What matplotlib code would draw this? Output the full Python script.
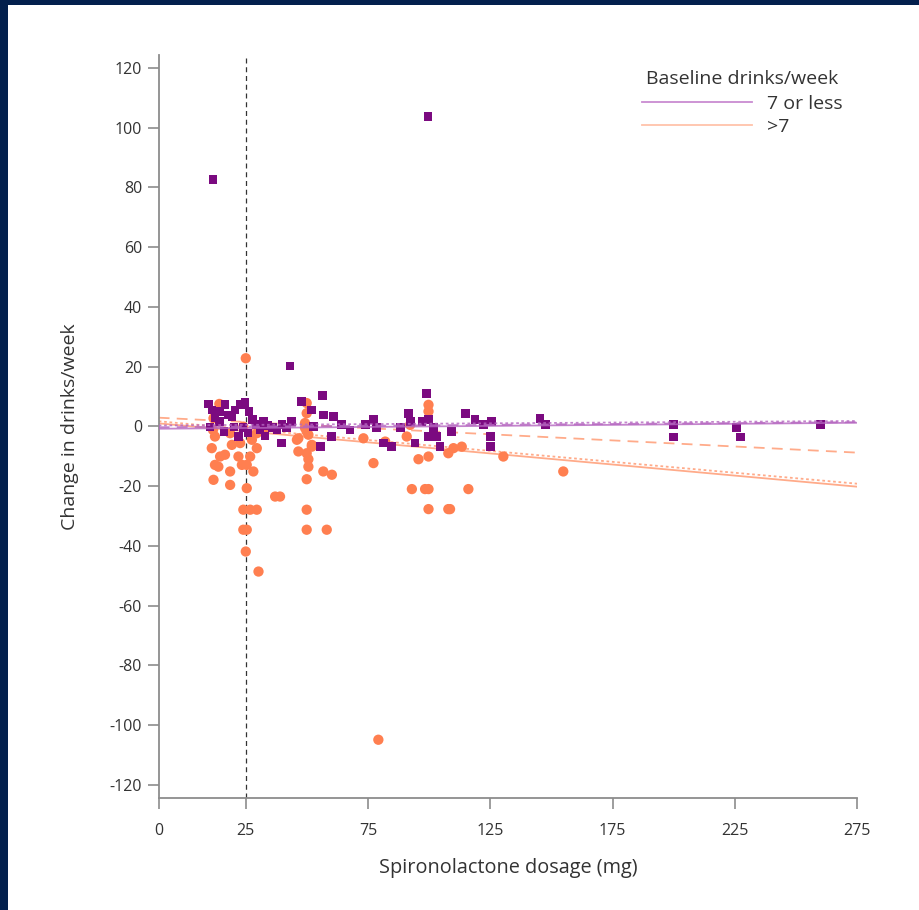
import matplotlib
matplotlib.use("Agg")
import matplotlib.pyplot as plt
from matplotlib.lines import Line2D
from matplotlib.patches import Rectangle

plt.rcParams['font.family'] = ['Open Sans', 'DejaVu Sans']

# ---------------- data ----------------
# Baseline 7 or less drinks/week (purple squares)
low_dose = [11.6, 99.5, 43.1, 56.5, 47.9, 52.0, 56.7, 60.8, 39.7, 43.8, 52.6, 55.4, 60.2,
            64.2, 67.6, 73.8, 77.2, 78.6, 81.3, 84.7, 88.1, 91.5, 92.2, 94.2, 97.0, 99.0,
            99.7, 101.7, 99.7, 103.1, 104.4, 109.2, 114.7, 118.7, 122.1, 125.6, 124.9,
            124.9, 145.3, 147.6, 199.8, 199.8, 225.7, 227.1, 259.8,
            9.6, 11.2, 12.4, 10.4, 14.1, 16.1, 17.8, 19.4, 20.6, 22.7, 24.7, 26.3, 27.6,
            20.2, 21.9, 29.2, 30.8, 32.1, 34.1, 35.8, 37.8, 39.8, 41.5, 32.9, 25.9, 23.9,
            14.5, 16.5]
low_change = [82.5, 103.6, 20.2, 10.3, 8.3, 5.5, 3.8, 3.3, -5.6, 1.6, -0.1, -6.8, -3.4,
              0.5, -1.2, 0.5, 2.2, -0.5, -5.6, -6.8, -0.5, 4.4, 1.6, -5.6, 1.6, 11.1,
              2.2, -0.5, -3.4, -3.4, -6.8, -1.7, 4.4, 2.2, 0.5, 1.6, -3.4,
              -6.8, 2.5, 0.5, 0.5, -3.6, -0.4, -3.6, 0.5,
              7.5, 5.5, 2.8, -0.2, 1.5, -1.8, 3.8, 3.2, 5.5, 7.2, 7.9, 4.9, 2.2,
              -0.2, -3.5, 0.5, -1.2, 1.5, 0.2, -0.5, -1.2, 0.5, -0.5, -3.2, -2.2, -0.5,
              4.9, 7.2]

# Baseline more than 7 drinks/week (orange circles)
high_dose = [25.0, 14.2, 11.8, 11.6, 12.4, 11.1, 14.5, 12.4, 13.8, 11.8, 18.6, 18.6,
             16.5, 19.3, 18.6, 24.0, 22.7, 22.0, 23.4, 25.4, 28.1, 26.8, 29.5, 27.5,
             29.5, 32.2, 25.4, 37.0, 24.0, 26.8, 29.5, 24.0, 25.4, 25.0, 30.2,
             49.9, 49.9, 49.2, 49.9, 45.9, 46.5, 49.9, 52.0, 50.6, 49.9, 56.7, 60.2,
             49.9, 49.9, 58.1, 50.6, 49.2, 52.0, 46.5, 50.6,
             73.1, 77.2, 82.0, 90.8, 92.2, 99.7, 99.7, 95.6, 99.7, 92.9, 98.3, 99.7,
             116.0, 99.7, 107.8, 108.5, 107.8, 109.9, 113.3, 130.3, 154.8, 39.0, 79.2]
high_change = [22.8, 7.5, 2.7, -1.2, -3.4, -7.3, -10.1, -12.9, -13.5, -17.9, -19.6, -15.1,
               -9.5, -6.2, -2.3, -0.1, -5.6, -10.1, -12.9, -12.9, -15.1, -10.1, -7.3, -4.5,
               -2.3, -1.7, -20.7, -23.5, -27.9, -27.9, -27.9, -34.6, -34.6, -41.9, -48.6,
               7.8, 4.4, 1.1, -1.7, -4.5, -8.4, -9.0, -6.2, -13.5, -17.7, -15.1, -16.2,
               -27.9, -34.6, -34.6, -2.8, -0.5, -6.8, -4.0, -11.0,
               -4.0, -12.3, -5.1, -3.4, 0.5, 7.2, 5.0, -11.0, -10.1, -21.0, -21.0, -21.0,
               -21.0, -27.7, -27.7, -27.7, -9.0, -7.3, -6.8, -10.1, -15.1, -23.5, -104.9]

# fitted lines (values at the two axis ends)
fit_x = [-10.6, 275]
low_fit_solid = [-0.8, 1.2]
low_fit_dashed = [-0.3, 1.4]
low_fit_dotted = [0.3, 1.8]
high_fit_solid = [1.0, -20.2]
high_fit_dashed = [2.9, -8.8]
high_fit_dotted = [1.7, -19.2]

x_tick_pos = [-10.6, 25, 75, 125, 175, 225, 275]
x_tick_labels = ["0", "25", "75", "125", "175", "225", "275"]
y_ticks = [120, 100, 80, 60, 40, 20, 0, -20, -40, -60, -80, -100, -120]

legend_title = "Baseline drinks/week"
group_labels = ["7 or less", ">7"]

# ---------------- figure ----------------
W, H = 919, 910
fig = plt.figure(figsize=(W / 100, H / 100), dpi=100)
fig.patch.set_facecolor('white')
navy = '#03204d'
fig.patches.append(Rectangle((0, 0), 8 / W, 1, transform=fig.transFigure,
                             facecolor=navy, edgecolor='none', zorder=-10))
fig.patches.append(Rectangle((0, 1 - 5 / H), 1, 5 / H, transform=fig.transFigure,
                             facecolor=navy, edgecolor='none', zorder=-10))

ax = fig.add_axes([158.7 / W, 112.3 / H, (857.3 - 158.7) / W, (797.7 - 55) / H])
ax.set_facecolor('none')

purple = '#7b0a80'
orange = '#ff7f50'
purple_line = '#b566c0'
orange_line = '#ffab8a'

ax.axvline(25, color='#333333', lw=0.9, ls=(0, (4, 3)), zorder=1)

ax.plot(fit_x, high_fit_solid, color=orange_line, lw=1.3, zorder=2)
ax.plot(fit_x, high_fit_dashed, color=orange_line, lw=1.3, ls=(0, (6, 4)), zorder=2)
ax.plot(fit_x, high_fit_dotted, color=orange_line, lw=1.3, ls=(0, (1.5, 1.5)), zorder=2)

ax.scatter(high_dose, high_change, s=55, marker='o', color=orange, edgecolors='none', zorder=3)
ax.scatter(low_dose, low_change, s=40, marker='s', color=purple, edgecolors='none', zorder=4)

ax.plot(fit_x, low_fit_solid, color=purple_line, lw=1.3, alpha=0.8, zorder=5)
ax.plot(fit_x, low_fit_dashed, color=purple_line, lw=1.3, alpha=0.8, ls=(0, (6, 4)), zorder=5)
ax.plot(fit_x, low_fit_dotted, color=purple_line, lw=1.3, alpha=0.8, ls=(0, (1.5, 1.5)), zorder=5)

ax.set_xlim(-10.6, 275)
ax.set_ylim(-124.3, 124.3)
ax.set_xticks(x_tick_pos)
ax.set_xticklabels(x_tick_labels)
ax.set_yticks(y_ticks)
ax.set_yticklabels([str(v) for v in y_ticks])

for s in ['top', 'right']:
    ax.spines[s].set_visible(False)
for s in ['left', 'bottom']:
    ax.spines[s].set_color('#8c8c8c')
    ax.spines[s].set_linewidth(1.3)
ax.tick_params(axis='both', colors='#8c8c8c', width=1.2, length=8, labelsize=11.5,
               labelcolor='#333333')
ax.tick_params(axis='x', pad=10)
ax.tick_params(axis='y', pad=4)

ax.set_xlabel("Spironolactone dosage (mg)", fontsize=14.3, color='#333333', labelpad=14)
ax.set_ylabel("Change in drinks/week", fontsize=14, color='#333333', labelpad=22)

handles = [Line2D([0], [0], color='#c98bd1', lw=1.3),
           Line2D([0], [0], color='#ffc3aa', lw=1.3)]
leg = ax.legend(handles, group_labels, title=legend_title, loc='upper right',
                bbox_to_anchor=(843 / W, 1 - 70 / H), bbox_transform=fig.transFigure,
                frameon=False, handlelength=5.7, handletextpad=0.77, fontsize=14,
                title_fontsize=14, labelspacing=0.25, borderpad=0, borderaxespad=0)
leg._legend_box.sep = 5
for t in leg.get_texts():
    t.set_color('#333333')
leg.get_title().set_color('#333333')

fig.savefig('out.png', dpi=100, facecolor=fig.get_facecolor())
